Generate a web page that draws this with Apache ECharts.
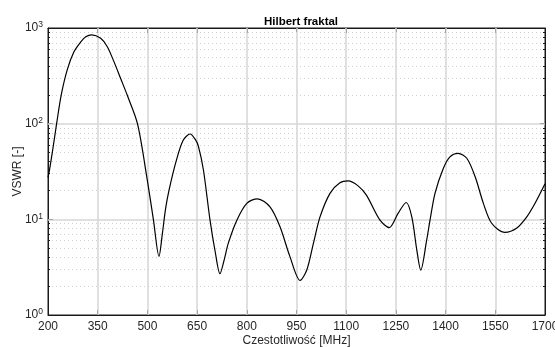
<!DOCTYPE html>
<html>
<head>
<meta charset="utf-8">
<script src="https://cdn.jsdelivr.net/npm/echarts@6/dist/echarts.min.js"></script>
<style>
  html, body { margin: 0; padding: 0; background: #fff; }
  #chart { width: 555px; height: 347px; }
</style>
</head>
<body>
<div id="chart"></div>
<script>
// dane
const freq = [200, 204, 213, 226, 240, 258, 278, 299, 314, 332, 359, 379, 399, 419, 439, 470, 498, 518, 535,
  545, 555, 565, 588, 608, 629, 645, 654, 669, 689, 705, 719, 732, 744, 770, 800, 832, 870, 900, 930, 961,
  981, 1001, 1021, 1051, 1080, 1106, 1135, 1161, 1202, 1230, 1257, 1281, 1298, 1313, 1325, 1343, 1353,
  1368, 1393, 1413, 1438, 1464, 1489, 1514, 1539, 1579, 1615, 1645, 1670, 1700]
const vswr = [27.5, 32, 50, 100, 200, 365, 560, 715, 810, 848, 780, 638, 445, 298, 199, 100, 28, 10, 4.1,
  7, 13, 20, 42, 67, 78, 68, 58, 33, 9.8, 4.5, 2.7, 3.8, 5.6, 9.8, 14.7, 16.4, 13.5, 8.4, 4.1, 2.3,
  2.95, 5.6, 10.6, 18.7, 24, 25.2, 22.5, 17.9, 9.8, 8.2, 11.6, 15, 10.6, 4.8, 2.95, 6.1, 9.8,
  18.7, 34, 45, 49, 43.5, 28, 14.7, 9.1, 7.3, 8.1, 10.6, 14.7, 23.5]

const xTicks = [200, 350, 500, 650, 800, 950, 1100, 1250, 1400, 1550, 1700]
const yMajor = [1, 10, 100, 1000]
const yMinor = [2, 3, 4, 5, 6, 7, 8, 9, 20, 30, 40, 50, 60, 70, 80, 90, 200, 300, 400, 500, 600, 700, 800, 900]

const textColor = '#262626'
const font = 'Liberation Sans'

// siatka: główne linie tylko wewnątrz ramki, drobne kropkowane
const majorGridLines = [
  ...xTicks.slice(1, -1).map(v => ({ xAxis: v })),
  ...yMajor.slice(1, -1).map(v => ({ yAxis: v }))
]
const minorGrid = yMinor.map(v => ({ yAxis: v }))
const minorTicks = []
yMinor.forEach(v => {
  minorTicks.push([{ coord: [200, v] }, { coord: [206, v] }])
  minorTicks.push([{ coord: [1694, v] }, { coord: [1700, v] }])
})

// ramka wykresu - osobne obiekty dla każdej osi
const boxLine = () => ({ show: true, onZero: false, lineStyle: { color: '#1a1a1a', width: 1 } })
const boxTick = () => ({ show: true, inside: true, length: 5, lineStyle: { color: '#1a1a1a', width: 1 } })

const option = {
  animation: false,
  backgroundColor: '#fff',
  title: {
    text: 'Hilbert fraktal',
    left: 296, top: 11, textAlign: 'center',
    textStyle: { fontFamily: font, fontSize: 11.5, fontWeight: 'bold', color: '#000' }
  },
  grid: {
    left: 48, right: 10, top: 28, bottom: 32, outerBoundsMode: 'none',
    show: true, borderColor: '#1a1a1a', borderWidth: 1, backgroundColor: 'transparent'
  },
  xAxis: [
    {
      type: 'value', min: xTicks[0], max: xTicks[xTicks.length - 1], interval: 150,
      name: 'Czestotliwość [MHz]', nameLocation: 'middle', nameGap: 20, nameMoveOverlap: false,
      nameTextStyle: { fontFamily: font, fontSize: 12, color: textColor },
      axisLine: boxLine(),
      axisTick: boxTick(),
      axisLabel: { fontFamily: font, fontSize: 12, color: textColor, margin: 6, formatter: v => String(v) },
      splitLine: { show: false },
      z: 4
    },
    {
      type: 'value', min: xTicks[0], max: xTicks[xTicks.length - 1], interval: 150, position: 'top',
      axisLine: boxLine(),
      axisTick: boxTick(),
      axisLabel: { show: false },
      splitLine: { show: false },
      z: 4
    }
  ],
  yAxis: [
    {
      type: 'log', logBase: 10, min: yMajor[0], max: yMajor[yMajor.length - 1],
      name: 'VSWR [-]', nameLocation: 'middle', nameGap: 24, nameMoveOverlap: false,
      nameTextStyle: { fontFamily: font, fontSize: 12, color: textColor },
      axisLine: boxLine(),
      axisTick: boxTick(),
      axisLabel: {
        fontFamily: font, fontSize: 12, color: textColor, margin: 5,
        formatter: v => '10{sup|' + Math.round(Math.log10(v)) + '}',
        rich: { sup: { fontFamily: font, fontSize: 8.5, color: textColor, verticalAlign: 'top', padding: [0, 0, 6, 0] } }
      },
      splitLine: { show: false },
      z: 4
    },
    {
      type: 'log', logBase: 10, min: yMajor[0], max: yMajor[yMajor.length - 1], position: 'right',
      axisLine: boxLine(),
      axisTick: boxTick(),
      axisLabel: { show: false },
      splitLine: { show: false },
      z: 4
    }
  ],
  series: [
    {
      type: 'line',
      data: [],
      markLine: {
        silent: true, symbol: 'none', label: { show: false },
        lineStyle: { color: '#d0d0d0', type: [1, 3], width: 1 },
        data: minorGrid
      },
      z: 1
    },
    {
      type: 'line',
      data: [],
      markLine: {
        silent: true, symbol: 'none', label: { show: false },
        lineStyle: { color: '#d6d6d6', type: 'solid', width: 1.5 },
        data: majorGridLines
      },
      z: 2
    },
    {
      type: 'line',
      data: freq.map((f, i) => [f, vswr[i]]),
      showSymbol: false,
      smooth: 0.3,
      lineStyle: { color: '#000', width: 1.2 },
      z: 5
    },
    {
      type: 'line',
      data: [],
      markLine: {
        silent: true, symbol: 'none', label: { show: false },
        lineStyle: { color: '#1a1a1a', type: 'solid', width: 1 },
        data: minorTicks
      },
      z: 6
    }
  ]
}

const chart = echarts.init(document.getElementById('chart'))
chart.setOption(option)
</script>
</body>
</html>
